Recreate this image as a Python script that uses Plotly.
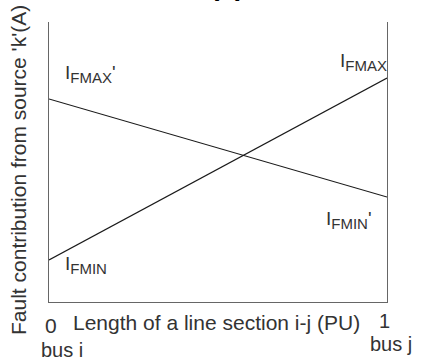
import plotly.graph_objects as go

# Normalised position along the line section i-j (per unit)
position = [0, 1]

# Fault current contribution from source 'k' (relative scale)
i_fmin_to_fmax = [0.15, 0.80]      # I_FMIN at bus i rising to I_FMAX at bus j
i_fmax_to_fmin = [0.725, 0.375]    # I_FMAX' at bus i falling to I_FMIN' at bus j

W, H = 426, 359
L, R, T, B = 49, 39, 22, 57
PW, PH = W - L - R, H - T - B

TXT = "#333333"
FONT = "Liberation Sans, Arial, sans-serif"


def px(x):
    return (x - L) / PW


def py(y):
    return (H - B - y) / PH


def current_label(sub, prime=""):
    return ("I<sub><span style='font-size:15px'>" + sub + "</span></sub>" + prime)


fig = go.Figure()
for ys in (i_fmin_to_fmax, i_fmax_to_fmin):
    fig.add_trace(go.Scatter(x=position, y=ys, mode="lines",
                             line=dict(color="#1a1a1a", width=1.2),
                             showlegend=False, hoverinfo="skip"))

notes = [
    ("<b>(a)</b>", 227, 3, "center", "bottom", 28, 0, "#000000"),
    (current_label("FMAX", "'"), 63, 60, "left", "top", 19, 0, TXT),
    (current_label("FMAX"), 389, 48, "right", "top", 19, 0, TXT),
    (current_label("FMIN"), 63, 251, "left", "top", 19, 0, TXT),
    (current_label("FMIN", "'"), 324, 206, "left", "top", 19, 0, TXT),
    ("0", 51, 325, "center", "middle", 21, 0, TXT),
    ("bus i", 62, 350, "center", "middle", 20, 0, TXT),
    ("Length of a line section i-j (PU)", 216, 322, "center", "middle", 21, 0, TXT),
    ("1", 384, 321, "center", "middle", 20, 0, TXT),
    ("bus j", 391, 344, "center", "middle", 20, 0, TXT),
    ("Fault contribution from source 'k'(A)", 18, 170, "center", "middle", 21, -90, TXT),
]
for text, x, y, xa, ya, size, ang, col in notes:
    fig.add_annotation(text=text, xref="paper", yref="paper", x=px(x), y=py(y),
                       xanchor=xa, yanchor=ya, showarrow=False, textangle=ang,
                       font=dict(family=FONT, size=size, color=col))

fig.update_xaxes(range=[0, 1], showgrid=False, zeroline=False, showticklabels=False,
                 ticks="", showline=True, linecolor="#666666", linewidth=1)
fig.update_yaxes(range=[0, 1], showgrid=False, zeroline=False, showticklabels=False,
                 ticks="", showline=True, mirror=True, linecolor="#666666", linewidth=1)

fig.update_layout(width=W, height=H, margin=dict(l=L, r=R, t=T, b=B),
                  paper_bgcolor="white", plot_bgcolor="white",
                  font=dict(family=FONT, color=TXT))

fig.write_html("out.html")
